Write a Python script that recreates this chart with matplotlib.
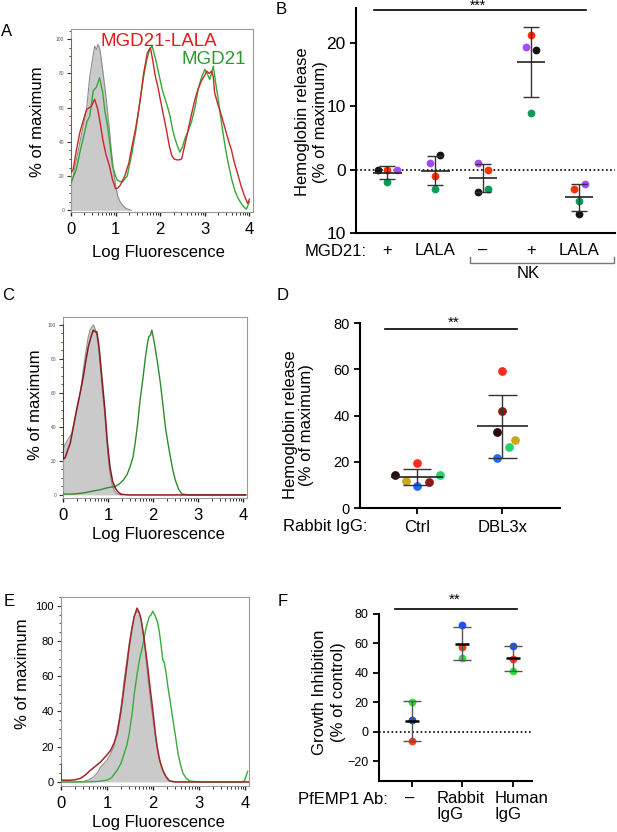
import numpy as np
import matplotlib
matplotlib.use('Agg')
import matplotlib.pyplot as plt
from matplotlib import ticker
from matplotlib.lines import Line2D

plt.rcParams['font.family'] = ['Liberation Sans', 'DejaVu Sans']

# ---- panel A histograms (log fluorescence, % of maximum)
a_gray_x = [0, 0.1, 0.2, 0.27, 0.35, 0.42, 0.48, 0.53, 0.57, 0.6, 0.64, 0.68, 0.73, 0.79, 0.85, 0.9,
            0.95, 1.0, 1.05, 1.1, 1.17, 1.24, 1.35]
a_gray_y = [14, 27, 40, 49, 59, 78, 88, 96, 94, 97, 95, 88, 78, 65, 50, 36, 24, 14.5, 8, 5, 2.5, 1, 0]
a_green_x = [0, 0.06, 0.12, 0.2, 0.3, 0.36, 0.42, 0.5, 0.57, 0.64, 0.71, 0.76, 0.82, 0.88, 0.93, 1.0,
             1.04, 1.15, 1.26, 1.37, 1.45, 1.52, 1.58, 1.63, 1.69, 1.74, 1.78, 1.82, 1.86, 1.89, 1.95,
             2.0, 2.05, 2.11, 2.17, 2.22, 2.28, 2.33, 2.38, 2.44, 2.5, 2.55, 2.62, 2.7, 2.78, 2.85,
             2.93, 3.0, 3.05, 3.11, 3.15, 3.19, 3.24, 3.3, 3.38, 3.45, 3.52, 3.6, 3.68, 3.75, 3.84,
             3.93, 4.0]
a_green_y = [16, 20, 24, 34, 45, 52, 55, 70, 72, 77.5, 69, 58, 49, 37, 26, 20, 17.5, 16.5, 20, 34, 46,
             59, 70, 78.5, 87, 92, 95, 96, 92, 89, 82, 76, 70, 65, 60, 55, 47, 42, 38, 34, 37, 41.7,
             46, 51.5, 60, 70.7, 78, 82.4, 80, 76.5, 80, 84.3, 75, 65, 50, 38, 28, 18.4, 11, 6.8, 3,
             0.6, 5]
a_red_x = [0, 0.005, 0.05, 0.12, 0.2, 0.28, 0.35, 0.41, 0.46, 0.53, 0.6, 0.66, 0.71, 0.78, 0.86, 0.93,
           1.0, 1.05, 1.1, 1.21, 1.3, 1.37, 1.45, 1.52, 1.58, 1.63, 1.67, 1.71, 1.78, 1.83, 1.89, 1.95,
           2.0, 2.07, 2.15, 2.2, 2.26, 2.31, 2.37, 2.43, 2.48, 2.55, 2.63, 2.7, 2.78, 2.85, 2.93, 3.0,
           3.04, 3.1, 3.15, 3.19, 3.22, 3.28, 3.33, 3.42, 3.52, 3.6, 3.66, 3.74, 3.81, 3.88, 3.96, 4.0]
a_red_y = [100, 22, 24, 35, 45.6, 53, 59, 60, 61, 65, 59, 50, 41.7, 33, 26, 18, 12.6, 13, 14.5, 20.3,
           28, 37.8, 48, 59, 70, 80.4, 86, 92, 95, 88, 78.5, 72, 65, 56, 45.6, 38, 32, 30, 29.5, 29.5,
           30, 38, 47.5, 56, 65, 71, 76, 79, 81.4, 80, 81.4, 78, 68.8, 63, 59, 51, 41.7, 35, 28, 21,
           14.5, 9, 4, 6.5]

# ---- panel C histograms
c_gray_x = [0, 0.05, 0.12, 0.19, 0.26, 0.34, 0.4, 0.45, 0.5, 0.56, 0.6, 0.64, 0.68, 0.72, 0.75, 0.79,
            0.82, 0.87, 0.93, 0.97, 1.0, 1.04, 1.08, 1.13, 1.19, 1.3]
c_gray_y = [26.5, 30, 33, 36, 44, 54, 63, 73.5, 83, 93, 97, 99, 100, 97, 94, 86, 77.5, 62, 46, 33, 22.5,
            13, 7, 3, 0.8, 0]
c_red_x = [0, 0.005, 0.05, 0.1, 0.16, 0.23, 0.3, 0.38, 0.45, 0.5, 0.56, 0.62, 0.67, 0.71, 0.75, 0.79,
           0.82, 0.87, 0.93, 0.98, 1.04, 1.1, 1.16, 1.23, 1.3, 1.45, 4.05]
c_red_y = [100, 21, 22, 26, 30.4, 40, 50, 60, 69.6, 78, 87, 93, 97, 96, 96, 89, 81.4, 67, 50, 32, 16.7,
           8, 4, 1.5, 0.3, 0, 0]
c_green_x = [0, 0.2, 0.4, 0.52, 0.7, 0.82, 0.95, 1.04, 1.16, 1.25, 1.34, 1.42, 1.49, 1.55, 1.6, 1.66,
             1.71, 1.77, 1.82, 1.86, 1.9, 1.94, 1.97, 2.0, 2.04, 2.1, 2.16, 2.22, 2.27, 2.33, 2.38,
             2.44, 2.49, 2.56, 2.64, 2.8, 4.05]
c_green_y = [0.5, 0.5, 1, 1.5, 2.5, 3, 4, 4.5, 5, 6.5, 8.8, 12, 16.7, 22, 30.4, 43, 56, 68, 79.4, 87, 93,
             94, 97, 93, 87, 77, 65.7, 52, 40, 30, 22.5, 14, 8.8, 3.5, 0.5, 0, 0]

# ---- panel E histograms
e_gray_x = [0, 0.3, 0.49, 0.6, 0.71, 0.8, 0.86, 0.93, 1.0, 1.08, 1.15, 1.2, 1.26, 1.32, 1.37, 1.43,
            1.48, 1.54, 1.59, 1.65, 1.7, 1.74, 1.8, 1.85, 1.9, 1.96, 2.02, 2.07, 2.12, 2.18, 2.25,
            2.32, 2.45, 4.1]
e_gray_y = [0, 0, 0.3, 1.2, 2.8, 5.5, 8.5, 10.5, 12.4, 16, 20, 27, 35, 46, 58, 69, 78.8, 88, 94, 97,
            96, 92, 82, 69, 56, 42.7, 31, 21.8, 14.5, 8.5, 4, 1, 0, 0]
e_red_x = [0, 0.005, 0.05, 0.2, 0.3, 0.42, 0.53, 0.64, 0.75, 0.86, 0.97, 1.08, 1.15, 1.22, 1.3, 1.37,
           1.43, 1.48, 1.54, 1.59, 1.65, 1.7, 1.74, 1.81, 1.88, 1.94, 2.0, 2.05, 2.1, 2.15, 2.21,
           2.28, 2.36, 2.5, 4.1]
e_red_y = [10, 1, 1, 1, 1.2, 2, 4, 6.7, 9, 11.4, 14.5, 18, 22, 27.5, 40, 54, 66, 76.8, 87, 94, 98.7,
           96, 92, 80, 65.5, 52, 39, 27, 18, 11.5, 6.7, 3, 0.5, 0, 0]
e_green_x = [0, 0.5, 0.8, 1.0, 1.1, 1.22, 1.3, 1.37, 1.43, 1.48, 1.54, 1.59, 1.65, 1.7, 1.77, 1.85,
             1.92, 1.96, 1.99, 2.04, 2.09, 2.13, 2.17, 2.21, 2.24, 2.28, 2.32, 2.38, 2.43, 2.49,
             2.54, 2.6, 2.65, 2.72, 2.8, 3.0, 3.9, 3.98, 4.05]
e_green_y = [0, 0, 0.3, 1, 2.5, 6.7, 10.5, 16, 21, 27.5, 38, 50, 61, 69, 77, 88, 94, 95, 97, 94.5, 91,
             86, 78, 69, 68, 62, 54, 44, 35, 25, 16, 9, 4.8, 2, 0.5, 0, 0, 0.5, 6]

# ---- panel B: hemoglobin release (% of max), one value per donor colour
b_groups = ['+', 'LALA', '–', '+', 'LALA']
b_black = [0.0, 2.3, -3.5, 18.8, -7.0]
b_red = [0.0, -1.0, 0.0, 21.2, -3.1]
b_purple = [0.0, 1.0, 1.0, 19.3, -2.2]
b_green = [-2.0, -3.0, -3.0, 8.9, -5.0]

# ---- panel D
d_groups = ['Ctrl', 'DBL3x']
d_red = [19.5, 59.3]
d_darkred = [11.3, 42.0]
d_black = [14.3, 32.7]
d_yellow = [11.8, 29.6]
d_green = [14.2, 26.3]
d_blue = [9.5, 21.7]

# ---- panel F: growth inhibition (% of control)
f_groups = ['–', 'Rabbit\nIgG', 'Human\nIgG']
f_green = [20.5, 50.0, 41.5]
f_blue = [8.0, 72.3, 58.5]
f_red = [-6.3, 57.5, 49.7]

W, H = 617, 832
fig = plt.figure(figsize=(W / 100, H / 100), dpi=100)


def box(l, t, r, b):
    return [l / W, 1 - b / H, (r - l) / W, (b - t) / H]


def ftext(x, y, s, **kw):
    kw.setdefault('ha', 'center')
    kw.setdefault('va', 'center')
    fig.text(x / W, 1 - y / H, s, **kw)


minor_log = [d + np.log10(k) for d in range(4) for k in range(2, 10)]


def histo(rect, ylim, ysize, ycolor):
    ax = fig.add_axes(rect)
    ax.set_xlim(0, 4.08)
    ax.set_ylim(*ylim)
    for s in ax.spines.values():
        s.set_color('#9a9a9a')
        s.set_linewidth(0.8)
    ax.set_xticks([0, 1, 2, 3, 4])
    ax.set_xticks(minor_log, minor=True)
    ax.set_yticks([0, 20, 40, 60, 80, 100])
    ax.yaxis.set_minor_locator(ticker.MultipleLocator(5))
    ax.tick_params(axis='x', which='major', labelsize=12, length=3, width=1, color='#222', pad=4)
    ax.tick_params(axis='x', which='minor', length=2, width=0.7, color='#333')
    ax.tick_params(axis='y', which='major', labelsize=ysize, labelcolor=ycolor, length=3, width=0.8,
                   color='#333', pad=2)
    ax.tick_params(axis='y', which='minor', length=1.8, width=0.6, color='#333')
    return ax


def gray_fill(ax, x, y):
    ax.fill_between(x, 0, y, color='#cacaca', lw=0, zorder=1)
    ax.plot(x, y, color='#8c8c8c', lw=0.8, zorder=2)


# Panel A
axA = histo(box(71, 29, 253, 212), (-1, 106), 3.5, '#555555')
gray_fill(axA, a_gray_x, a_gray_y)
axA.plot(a_green_x, a_green_y, color='#35a835', lw=1.0, zorder=3)
axA.plot(a_red_x, a_red_y, color='#c8282a', lw=1.0, zorder=4)
ftext(159, 41, 'MGD21-LALA', color='#e41a1c', fontsize=13.5)
ftext(214, 60, 'MGD21', color='#2e9a2e', fontsize=13.5)
ftext(37, 122, '% of maximum', rotation=90, fontsize=12)
ftext(158, 252, 'Log Fluorescence', fontsize=12)

# Panel C
axC = histo(box(63, 317, 247, 498), (-1.8, 104.7), 3.5, '#555555')
gray_fill(axC, c_gray_x, c_gray_y)
axC.plot(c_green_x, c_green_y, color='#2e8b2e', lw=1.0, zorder=3)
axC.plot(c_red_x, c_red_y, color='#8b1a1a', lw=1.1, zorder=4)
ftext(35, 405, '% of maximum', rotation=90, fontsize=12)
ftext(158, 534, 'Log Fluorescence', fontsize=12)

# Panel E
axE = histo(box(61, 597, 249, 786), (-2.3, 105), 8, 'black')
gray_fill(axE, e_gray_x, e_gray_y)
axE.plot(e_green_x, e_green_y, color='#3aaa3a', lw=1.0, zorder=3)
axE.plot(e_red_x, e_red_y, color='#a0282a', lw=1.1, zorder=4)
ftext(23, 674, '% of maximum', rotation=90, fontsize=12)
ftext(158, 822, 'Log Fluorescence', fontsize=12)


def dot_axes(rect, xlim, ylim):
    ax = fig.add_axes(rect)
    ax.set_xlim(*xlim)
    ax.set_ylim(*ylim)
    ax.spines[['top', 'right']].set_visible(False)
    for s in ['left', 'bottom']:
        ax.spines[s].set_linewidth(1.5)
    ax.tick_params(axis='y', length=4, width=1.3)
    ax.tick_params(axis='x', length=4, width=1.3)
    return ax


def dots(ax, i, vals, offs, cols, ms, mean_w, cap_w, elw=1.0, ecol='#333333', mcol='#222222', mlw=1.2):
    vals = np.array(vals)
    m = vals.mean()
    sd = vals.std(ddof=1)
    ax.vlines(i, m - sd, m + sd, color=ecol, lw=elw, zorder=3)
    ax.hlines([m - sd, m + sd], i - cap_w, i + cap_w, color=ecol, lw=elw, zorder=3)
    ax.hlines(m, i - mean_w, i + mean_w, color=mcol, lw=mlw, zorder=3)
    for v, o, c in zip(vals, offs, cols):
        ax.plot(i + o, v, 'o', color=c, ms=ms, mec='none', zorder=2)


# Panel B
axB = dot_axes(box(356, 8, 615, 233), (-0.65, 4.75), (-10, 25.5))
b_cols = ['#141414', '#ff2d00', '#a24bff', '#0c9a5c']
b_offs = [[-0.2, 0, 0.2, 0], [0.1, 0, -0.1, 0], [-0.1, 0.1, -0.1, 0.1], [0.1, 0, -0.1, 0],
          [0, -0.1, 0.12, 0]]
axB.axhline(0, color='black', lw=1.2, ls=(0, (1, 1.5)), zorder=1)
for i in range(len(b_groups)):
    dots(axB, i, [b_black[i], b_red[i], b_purple[i], b_green[i]], b_offs[i], b_cols, 5.6, 0.3, 0.17)
axB.set_yticks([-10, 0, 10, 20])
axB.set_yticklabels(['10', '0', '10', '20'], fontsize=12.5)
axB.set_xticks(range(len(b_groups)))
axB.set_xticklabels(b_groups, fontsize=12)
axB.tick_params(axis='x', length=0, pad=7)
axB.plot([-0.27, 4.15], [25.2, 25.2], color='black', lw=1.2, clip_on=False)
ftext(478, 6, '***', fontsize=10)
ftext(367, 251, 'MGD21:', fontsize=12, ha='right')
fig.add_artist(Line2D([470 / W, 470 / W, 614 / W, 614 / W],
                      [1 - 257 / H, 1 - 263 / H, 1 - 263 / H, 1 - 257 / H], color='#777777', lw=1))
ftext(528, 274, 'NK', fontsize=12)
ftext(302, 122, 'Hemoglobin release', rotation=90, fontsize=12)
ftext(320, 122, '(% of maximum)', rotation=90, fontsize=12)

# Panel D
axD = dot_axes(box(360, 323, 560, 508), (-0.67, 1.68), (0, 80))
d_cols = ['#ff2a22', '#8a1a12', '#2a0a0a', '#c9a81e', '#22d46c', '#1f6bff']
d_offs = [[0, 0.14, -0.26, -0.13, 0.27, 0], [0, 0, -0.06, 0.15, 0.08, -0.06]]
for i in range(len(d_groups)):
    dots(axD, i, [d_red[i], d_darkred[i], d_black[i], d_yellow[i], d_green[i], d_blue[i]],
         d_offs[i], d_cols, 6.3, 0.3, 0.17)
axD.set_yticks([0, 20, 40, 60, 80])
axD.tick_params(axis='y', labelsize=10.5)
axD.set_xticks(range(len(d_groups)))
axD.set_xticklabels(d_groups, fontsize=12)
axD.tick_params(axis='x', pad=5)
axD.plot([-0.38, 1.18], [77.5, 77.5], color='black', lw=1.2, clip_on=False)
ftext(454, 323, '**', fontsize=11)
ftext(367, 527, 'Rabbit IgG:', fontsize=12, ha='right')
ftext(290, 425, 'Hemoglobin release', rotation=90, fontsize=12)
ftext(307, 425, '(% of maximum)', rotation=90, fontsize=12)

# Panel F
axF = dot_axes(box(379, 614, 532, 781), (-0.65, 2.38), (-33.3, 80))
f_cols = ['#2ae63a', '#1f4fff', '#ff3a12']
axF.axhline(0, color='black', lw=1.2, ls=(0, (1, 1.5)), zorder=1)
for i in range(len(f_groups)):
    dots(axF, i, [f_green[i], f_blue[i], f_red[i]], [0, 0, 0], f_cols, 5.6, 0.14, 0.18,
         elw=1.0, ecol='#555555', mcol='black', mlw=1.8)
axF.set_yticks([-20, 0, 20, 40, 60, 80])
axF.tick_params(axis='y', labelsize=9)
axF.set_xticks(range(len(f_groups)))
axF.set_xticklabels([''] * len(f_groups))
axF.plot([-0.34, 2.08], [83.4, 83.4], color='black', lw=1.2, clip_on=False)
# category labels sit left-aligned, slightly off their ticks as in the original
for lab, x in zip(f_groups, [405, 437, 495]):
    fig.text(x / W, 1 - 791 / H, lab, fontsize=12, ha='left', va='top', multialignment='left',
             linespacing=1.1)
ftext(455, 600, '**', fontsize=11)
ftext(388, 800, 'PfEMP1 Ab:', fontsize=12, ha='right')
ftext(319, 692, 'Growth Inhibition', rotation=90, fontsize=12)
ftext(339, 692, '(% of control)', rotation=90, fontsize=12)

# panel letters
for letter, x, y in [('A', 7, 32), ('B', 281, 9), ('C', 8, 296), ('D', 283, 296),
                     ('E', 9, 602), ('F', 283, 601)]:
    ftext(x, y, letter, fontsize=12)

fig.savefig('out.png', dpi=100)
